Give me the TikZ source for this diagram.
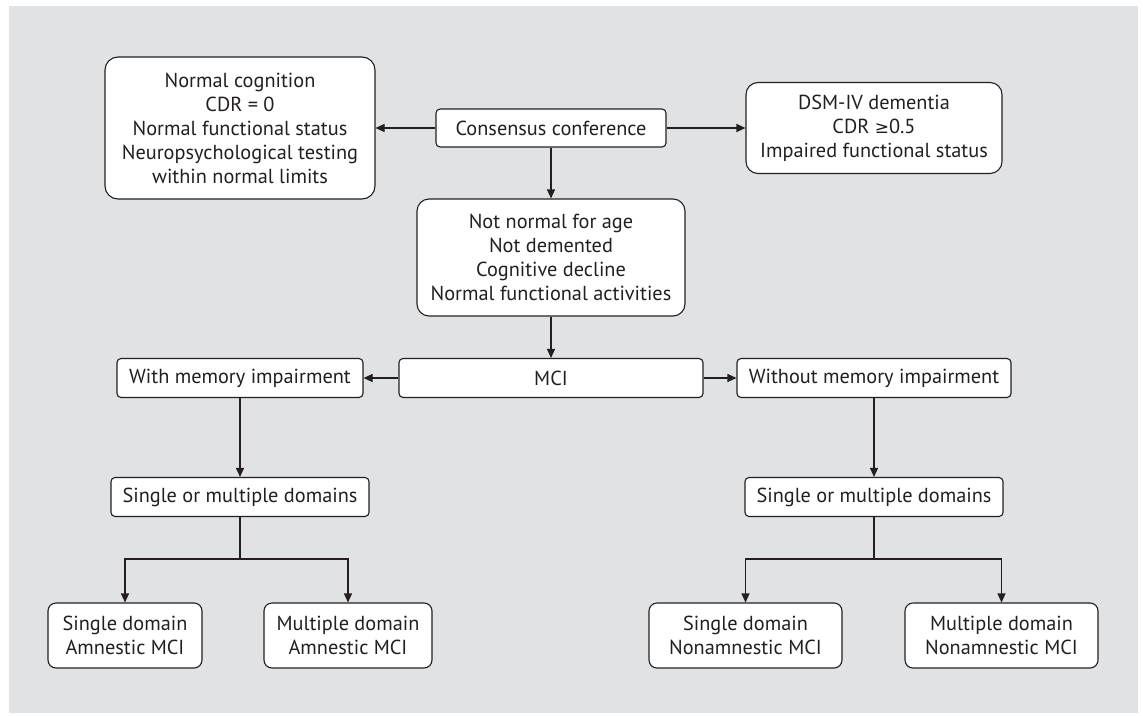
\documentclass[tikz,border=0pt]{standalone}
\usepackage{fontspec}
\setmainfont{PT Sans}
\newfontfamily\dejavu{DejaVu Sans}
\usetikzlibrary{arrows.meta}
\definecolor{bg}{HTML}{E1E2E4}
\definecolor{ink}{HTML}{231F20}
\tikzset{
  box/.style={draw=ink, fill=white, line width=1.1pt, align=center, inner sep=0pt,
    text=ink, font=\fontsize{20.3}{24}\selectfont},
  bigr/.style={box, rounded corners=13pt},
  smallr/.style={box, rounded corners=4pt},
  midr/.style={box, rounded corners=8pt},
  conn/.style={draw=ink, line width=1.1pt, -{Triangle[length=9pt,width=8pt]}},
  plainline/.style={draw=ink, line width=1.1pt},
}
\begin{document}
\begin{tikzpicture}[x=1pt,y=-1pt]
\useasboundingbox (0,0) rectangle (1143,715);
\fill[white] (0,0) rectangle (1143,715);
\fill[bg] (9,6) rectangle (1138,713);

\node[bigr, minimum width=270pt, minimum height=142pt] (norm) at (240,128)
  {Normal cognition\\CDR = 0\\Normal functional status\\Neuropsychological testing\\within normal limits};
\node[smallr, minimum width=230pt, minimum height=38pt] (cons) at (551,128) {Consensus conference};
\node[bigr, rounded corners=12pt, minimum width=256pt, minimum height=91pt] (dsm) at (874,128)
  {DSM-IV dementia\\CDR {\dejavu\fontsize{17}{24}\selectfont ≥}0.5\\Impaired functional status};
\node[bigr, rounded corners=12pt, minimum width=268pt, minimum height=117pt] (notn) at (551,257.5)
  {Not normal for age\\Not demented\\Cognitive decline\\Normal functional activities};
\node[smallr, minimum width=304pt, minimum height=39pt] (mci) at (551,378) {MCI};
\node[smallr, minimum width=246pt, minimum height=39pt] (withm) at (240,378) {With memory impairment};
\node[smallr, minimum width=274pt, minimum height=39pt] (withoutm) at (874,378) {Without memory impairment};
\node[smallr, minimum width=258pt, minimum height=39pt] (sml) at (240,497) {Single or multiple domains};
\node[smallr, minimum width=258pt, minimum height=39pt] (smr) at (874,497) {Single or multiple domains};
\node[midr, minimum width=154pt, minimum height=65pt] (sda) at (125,635.5) {Single domain\\Amnestic MCI};
\node[midr, minimum width=168pt, minimum height=65pt] (mda) at (348,635.5) {Multiple domain\\Amnestic MCI};
\node[midr, minimum width=193pt, minimum height=65pt] (sdn) at (745.5,635.5) {Single domain\\Nonamnestic MCI};
\node[midr, minimum width=193pt, minimum height=65pt] (mdn) at (1001.5,635.5) {Multiple domain\\Nonamnestic MCI};

\coordinate (jl) at (240,559);
\coordinate (jr) at (874,559);

\draw[conn] (cons.west) -- (norm.east);
\draw[conn] (cons.east) -- (dsm.west);
\draw[conn] (cons.south) -- (notn.north);
\draw[conn] (notn.south) -- (mci.north);
\draw[conn] (mci.west) -- (withm.east);
\draw[conn] (mci.east) -- (withoutm.west);
\draw[conn] (withm.south) -- (sml.north);
\draw[conn] (withoutm.south) -- (smr.north);
\draw[plainline] (sml.south) -- (jl);
\draw[plainline] (smr.south) -- (jr);
\draw[conn] (jl) -| (sda.north);
\draw[conn] (jl) -| (mda.north);
\draw[conn] (jr) -| (sdn.north);
\draw[conn] (jr) -| (mdn.north);
\end{tikzpicture}
\end{document}
